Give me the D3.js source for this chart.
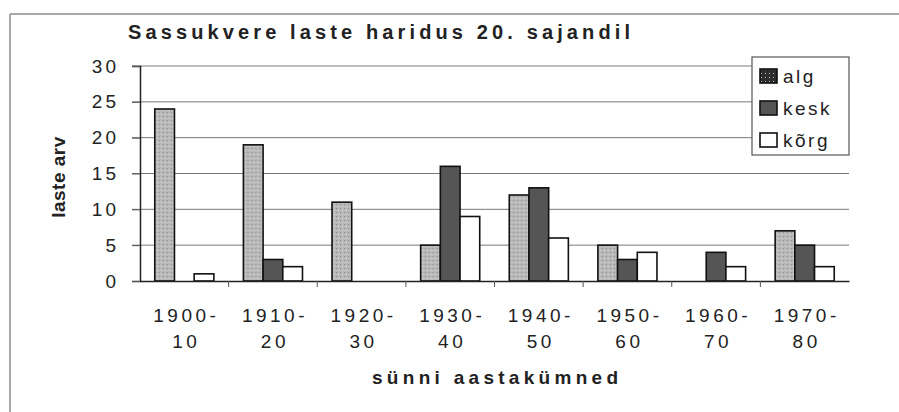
<html>
<head>
    <script src="https://d3js.org/d3.v7.min.js"></script>
</head>
<body style="margin:0;background:#fff">
    <svg id="haridus" width="899" height="412"></svg>
</body>
<style>
    text{font-family: "Liberation Sans", Arial, sans-serif; fill:#222}
</style>
<script>
    // andmed
    const kumnendid = ['1900-10','1910-20','1920-30','1930-40','1940-50','1950-60','1960-70','1970-80']
    const labelTop = ['1900-','1910-','1920-','1930-','1940-','1950-','1960-','1970-']
    const labelBottom = ['10','20','30','40','50','60','70','80']
    const seeriad = ['alg','kesk','kõrg']
    const alg  = [24, 19, 11, 5, 12, 5, 0, 7]
    const kesk = [0, 3, 0, 16, 13, 3, 4, 5]
    const korg = [1, 2, 0, 9, 6, 4, 2, 2]
    const yTicks = [0, 5, 10, 15, 20, 25, 30]

    let svg = d3.select('svg#haridus')
    const margin = {top:66, left:140, right:50, bottom:131}
    const width = +svg.attr('width')
    const height = +svg.attr('height')

    const rows = kumnendid.map((k,i)=>({kumnend:k, alg:alg[i], kesk:kesk[i], 'kõrg':korg[i]}))

    // stipple pattern for the light bars
    let defs = svg.append('defs')
    let pat = defs.append('pattern').attr('id','tapid')
        .attr('width',4).attr('height',4).attr('patternUnits','userSpaceOnUse')
    pat.append('rect').attr('width',4).attr('height',4).attr('fill','#b9b9b9')
    pat.append('rect').attr('x',0).attr('y',0).attr('width',1).attr('height',1).attr('fill','#8a8a8a')
    pat.append('rect').attr('x',2).attr('y',2).attr('width',1).attr('height',1).attr('fill','#d6d6d6')
    let pat2 = defs.append('pattern').attr('id','tapid2')
        .attr('width',4).attr('height',4).attr('patternUnits','userSpaceOnUse')
    pat2.append('rect').attr('width',4).attr('height',4).attr('fill','#2e2e2e')
    pat2.append('rect').attr('x',1).attr('y',1).attr('width',1).attr('height',1).attr('fill','#bbbbbb')

    const fills = {'alg':'url(#tapid)', 'kesk':'#555555', 'kõrg':'#ffffff'}

    // outer frame (scan shows only top and left edges)
    svg.append('line').attr('x1',10).attr('x2',899).attr('y1',14).attr('y2',14)
       .attr('stroke','#8c8c8c').attr('stroke-width',1.5)
    svg.append('line').attr('x1',10).attr('x2',10).attr('y1',14).attr('y2',412)
       .attr('stroke','#8c8c8c').attr('stroke-width',1.5)

    const x0 = d3.scaleBand()
        .domain(kumnendid)
        .range([margin.left, width - margin.right])
        .paddingInner(1/3)
        .paddingOuter(1/6)
    const x1 = d3.scaleBand()
        .domain(seeriad)
        .range([0, x0.bandwidth()])
    const y = d3.scaleLinear()
        .domain([0, 30])
        .range([height - margin.bottom, margin.top])

    // grid
    svg.append('g').selectAll('line.grid')
       .data(yTicks.filter(d=>d>0))
       .join('line')
       .attr('class','grid')
       .attr('x1', margin.left - 8)
       .attr('x2', width - margin.right)
       .attr('y1', d=>y(d)).attr('y2', d=>y(d))
       .attr('stroke','#7a7a7a').attr('stroke-width',1)

    // y axis
    const yAxis = d3.axisLeft(y).tickValues(yTicks).tickSize(8).tickPadding(16)
    let ya = svg.append('g').attr('transform',`translate(${margin.left},0)`).call(yAxis)
    ya.select('path.domain').attr('stroke','#222').attr('stroke-width',1.5)
    ya.selectAll('line').attr('stroke','#555')
    ya.selectAll('text').attr('font-size','19px').attr('letter-spacing','3px')
       .style('fill','#222').attr('dx','3px')

    // bars
    svg.append('g').selectAll('g.grupp')
       .data(rows)
       .join('g')
       .attr('class','grupp')
       .attr('transform', d=>`translate(${x0(d.kumnend)},0)`)
       .selectAll('rect')
       .data(d=>seeriad.map(s=>({s:s, v:d[s]})).filter(e=>e.v>0))
       .join('rect')
       .attr('x', d=>x1(d.s))
       .attr('y', d=>y(d.v))
       .attr('width', x1.bandwidth())
       .attr('height', d=>y(0)-y(d.v))
       .attr('fill', d=>fills[d.s])
       .attr('stroke','#111').attr('stroke-width',1.6)

    // x axis
    const xAxis = d3.axisBottom(x0.copy().paddingInner(0).paddingOuter(0)).tickSize(0).tickFormat('')
    let xa = svg.append('g').attr('transform',`translate(0,${y(0)})`).call(xAxis)
    xa.select('path.domain').attr('stroke','#222').attr('stroke-width',1.5)
    svg.append('g').selectAll('line.xtick')
       .data(kumnendid.slice(1))
       .join('line')
       .attr('class','xtick')
       .attr('x1', d=>x0(d) - x0.step()*x0.paddingInner()/2)
       .attr('x2', d=>x0(d) - x0.step()*x0.paddingInner()/2)
       .attr('y1', y(0)).attr('y2', y(0)+6)
       .attr('stroke','#555')

    svg.append('g').selectAll('text.xl1')
       .data(kumnendid)
       .join('text')
       .attr('class','xl1')
       .attr('x', (d)=>x0(d) + x0.bandwidth()/2 + 2)
       .attr('y', 322)
       .attr('text-anchor','middle')
       .attr('font-size','19px').attr('letter-spacing','3.5px')
       .text((d,i)=>labelTop[i])
    svg.append('g').selectAll('text.xl2')
       .data(kumnendid)
       .join('text')
       .attr('class','xl2')
       .attr('x', (d)=>x0(d) + x0.bandwidth()/2 + 2)
       .attr('y', 348)
       .attr('text-anchor','middle')
       .attr('font-size','19px').attr('letter-spacing','3.5px')
       .text((d,i)=>labelBottom[i])

    // titles
    svg.append('text')
       .attr('x',128).attr('y',39)
       .attr('font-size','20px').attr('font-weight','bold')
       .attr('textLength',502).attr('lengthAdjust','spacing')
       .text('Sassukvere laste haridus 20. sajandil')
    svg.append('text')
       .attr('x',372).attr('y',384)
       .attr('font-size','19px').attr('font-weight','bold')
       .attr('textLength',246).attr('lengthAdjust','spacing')
       .text('sünni aastakümned')
    svg.append('text')
       .attr('transform','translate(65,177) rotate(-90)')
       .attr('text-anchor','middle')
       .attr('font-size','19px').attr('font-weight','bold')
       .attr('letter-spacing','0.5px')
       .text('laste arv')

    // legend
    let leg = svg.append('g').attr('transform','translate(752,57)')
    leg.append('rect').attr('width',97).attr('height',98)
       .attr('fill','#fff').attr('stroke','#555').attr('stroke-width',1.2)
    const legFills = {'alg':'url(#tapid2)', 'kesk':'#555555', 'kõrg':'#ffffff'}
    let li = leg.selectAll('g.li')
       .data(seeriad)
       .join('g')
       .attr('class','li')
       .attr('transform',(d,i)=>`translate(8,${19 + i*32})`)
    li.append('rect')
       .attr('x',0).attr('y',-7).attr('width',17).attr('height',14)
       .attr('fill', d=>legFills[d]).attr('stroke','#111').attr('stroke-width',1.6)
    li.append('text')
       .attr('x',23).attr('y',7)
       .attr('font-size','19px').attr('letter-spacing','2.5px')
       .text(d=>d)
</script>
</html>
